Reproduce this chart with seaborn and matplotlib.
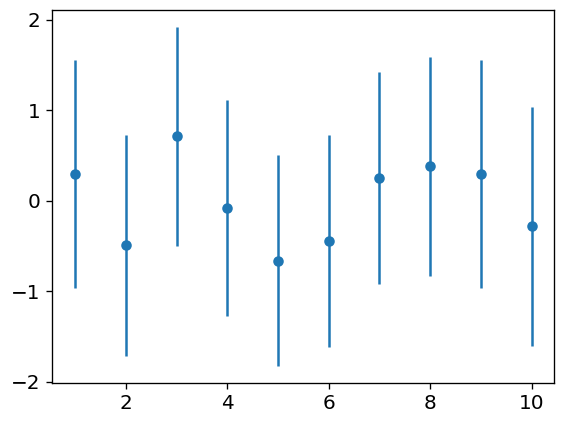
import matplotlib
matplotlib.use("Agg")
import matplotlib.pyplot as plt
import seaborn as sns
import pandas as pd

x_values = [1, 2, 3, 4, 5, 6, 7, 8, 9, 10]
y_values = [0.30, -0.49, 0.71, -0.08, -0.66, -0.44, 0.25, 0.38, 0.30, -0.28]
y_errors = [1.26, 1.22, 1.21, 1.19, 1.17, 1.17, 1.17, 1.21, 1.26, 1.32]

df = pd.DataFrame({"x": x_values, "y": y_values, "err": y_errors})

sns.set_style("ticks")
plt.rcParams["font.family"] = ["DejaVu Sans"]
plt.rcParams["axes.linewidth"] = 0.8

color = "#1f77b4"
fig, ax = plt.subplots(figsize=(568 / 120, 422 / 120), dpi=120)
fig.subplots_adjust(left=0.092, right=0.976, top=0.977, bottom=0.093)

ax.errorbar(df["x"], df["y"], yerr=df["err"], fmt="none", ecolor=color, elinewidth=1.5)
sns.scatterplot(data=df, x="x", y="y", ax=ax, color=color, s=40, linewidth=0, zorder=3)

ax.set_xlabel("")
ax.set_ylabel("")
ax.set_xlim(0.55, 10.45)
ax.set_ylim(-2.01, 2.11)
ax.set_xticks([2, 4, 6, 8, 10])
ax.set_yticks([-2, -1, 0, 1, 2])
ax.tick_params(labelsize=12, length=3.5, width=0.8, colors="black")
for s in ax.spines.values():
    s.set_visible(True)
    s.set_color("black")

fig.savefig("out.png", dpi=120)
